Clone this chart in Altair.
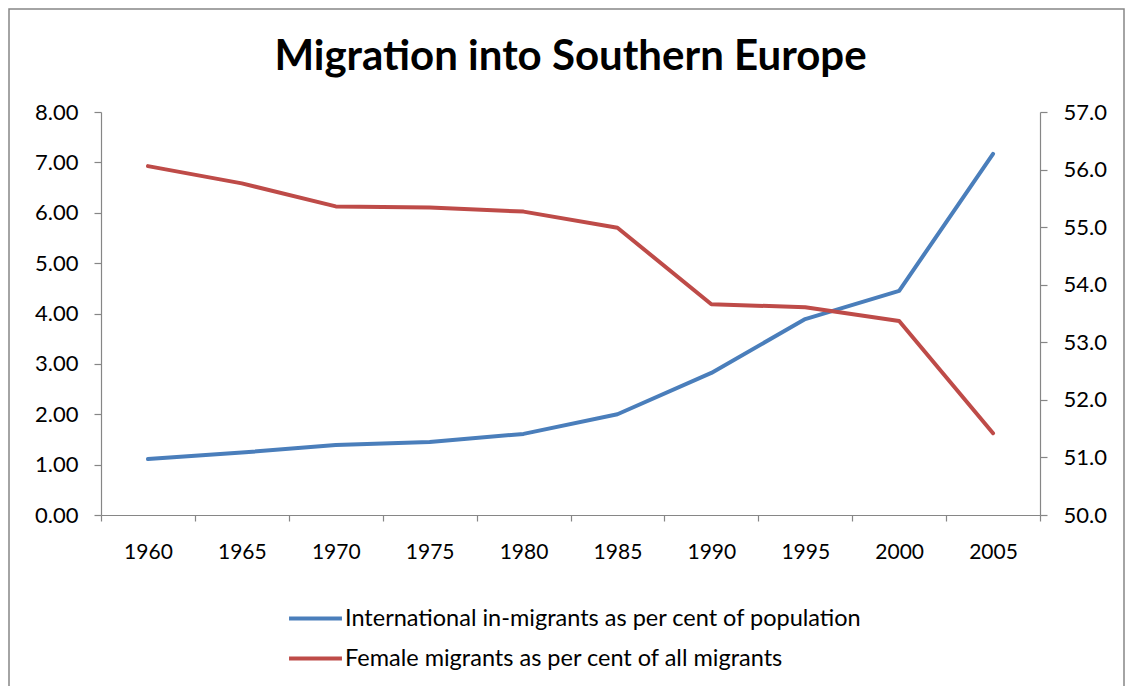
import altair as alt
import pandas as pd

years = ["1960", "1965", "1970", "1975", "1980", "1985", "1990", "1995", "2000", "2005"]
inmigrants_pct = [1.11, 1.24, 1.39, 1.45, 1.61, 2.00, 2.82, 3.89, 4.45, 7.17]
female_pct = [56.06, 55.76, 55.36, 55.34, 55.27, 54.99, 53.66, 53.61, 53.37, 51.42]
series_names = ["International in-migrants as per cent of population",
                "Female migrants as per cent of all migrants"]
series_colors = ["#4A7EBB", "#BE4B48"]
left_ticks = [0, 1, 2, 3, 4, 5, 6, 7, 8]
right_ticks = [50, 51, 52, 53, 54, 55, 56, 57]

df = pd.DataFrame({
    "year": years * 2,
    "value": inmigrants_pct + female_pct,
    "series": [series_names[0]] * len(years) + [series_names[1]] * len(years),
})

FONT = "Lato"
GREY = "#868686"

x_enc = alt.X(
    "year:O",
    sort=years,
    bandPosition=0.5,
    scale=alt.Scale(type="band", paddingInner=0, paddingOuter=0),
    axis=alt.Axis(title=None, labelAngle=0, tickBand="extent", domainColor=GREY,
                  tickColor=GREY, tickSize=6, labelPadding=20, labelFont=FONT,
                  labelFontSize=21, labelColor="black", domainWidth=1.2, tickWidth=1.2,
                  grid=False),
)

color_enc = alt.Color(
    "series:N",
    scale=alt.Scale(domain=series_names, range=series_colors),
    legend=alt.Legend(title=None, orient="none", legendX=186, legendY=478,
                      direction="vertical", symbolType="stroke", symbolSize=2800,
                      symbolStrokeWidth=4, labelFont=FONT, labelFontSize=23.5,
                      labelColor="black", labelOffset=1, rowPadding=0,
                      labelLimit=900),
)

base = alt.Chart(df).encode(x=x_enc, color=color_enc)

left = base.transform_filter(alt.datum.series == series_names[0]).mark_line(
    strokeWidth=4, strokeCap="round", strokeJoin="round"
).encode(
    y=alt.Y("value:Q", scale=alt.Scale(domain=[0, 8], nice=False),
            axis=alt.Axis(title=None, orient="left", values=left_ticks, format=".2f",
                          grid=False, domainColor=GREY, tickColor=GREY, tickSize=7,
                          labelPadding=16, labelFont=FONT, labelFontSize=22,
                          labelColor="black", domainWidth=1.2, tickWidth=1.2))
)

right = base.transform_filter(alt.datum.series == series_names[1]).mark_line(
    strokeWidth=4, strokeCap="round", strokeJoin="round"
).encode(
    y=alt.Y("value:Q", scale=alt.Scale(domain=[50, 57], nice=False),
            axis=alt.Axis(title=None, orient="right", values=right_ticks, format=".1f",
                          grid=False, domainColor=GREY, tickColor=GREY, tickSize=7,
                          labelPadding=16, labelFont=FONT, labelFontSize=22,
                          labelColor="black", domainWidth=1.2, tickWidth=1.2))
)

frame = alt.Chart(pd.DataFrame({"a": [0]})).mark_rect(
    fillOpacity=0, stroke=GREY, strokeWidth=1.5
).encode(x=alt.value(-92), x2=alt.value(1023), y=alt.value(-103), y2=alt.value(700))

chart = alt.layer(left, right, frame).resolve_scale(y="independent").properties(
    width=939,
    height=403,
    background="white",
    view=alt.ViewBackground(strokeWidth=0, stroke="transparent"),
    autosize=alt.AutoSizeParams(type="none"),
    padding={"left": 93, "top": 104, "right": 85, "bottom": 171},
    title=alt.Title("Migration into Southern Europe", font=FONT, fontSize=42,
                    fontWeight="bold", color="black", anchor="middle", offset=0,
                    baseline="bottom", dy=113),
).configure_view(stroke="transparent", strokeWidth=0).configure_axis(grid=False)

chart.save("out.html", embed_options={"renderer": "svg", "actions": False})
